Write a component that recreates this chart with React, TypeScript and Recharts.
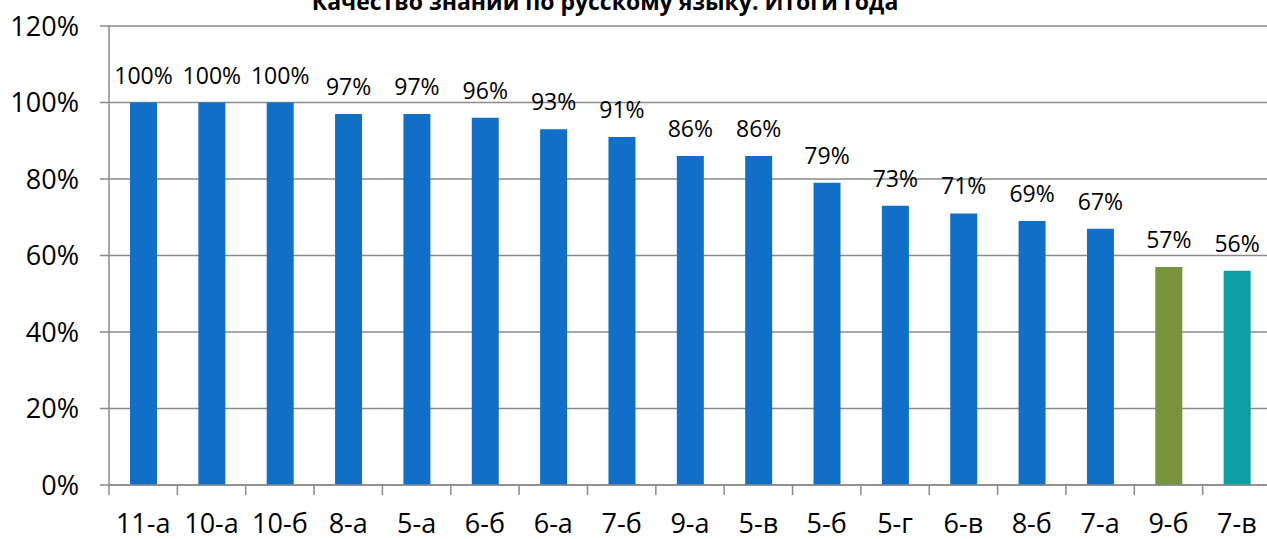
import { BarChart, Bar, XAxis, YAxis, CartesianGrid, Cell, LabelList } from "recharts";

const title = "Качество знаний по русскому языку. Итоги года";

// classes, sorted by result
const classes = [
    "11-а", "10-а", "10-б", "8-а", "5-а", "6-б", "6-а", "7-б", "9-а",
    "5-в", "5-б", "5-г", "6-в", "8-б", "7-а", "9-б", "7-в",
];
const quality = [100, 100, 100, 97, 97, 96, 93, 91, 86, 86, 79, 73, 71, 69, 67, 57, 56];
const barColors = [
    "#116fc7", "#116fc7", "#116fc7", "#116fc7", "#116fc7", "#116fc7", "#116fc7", "#116fc7",
    "#116fc7", "#116fc7", "#116fc7", "#116fc7", "#116fc7", "#116fc7", "#116fc7", "#77933c", "#0b9ea5",
];
const yTicks = [0, 20, 40, 60, 80, 100, 120];

const data = classes.map((name, i) => ({ name, value: quality[i], fill: barColors[i] }));

const FONT = "'Open Sans', 'Noto Sans', sans-serif";
const GRID = "#8a8a8a";

// Excel style: tick marks sit between categories, label in the middle
function CategoryTick(props: any) {
    const { x, y, payload, width, visibleTicksCount } = props;
    const band = width && visibleTicksCount ? width / visibleTicksCount : 68.35;
    const left = x - band / 2;
    return (
        <g>
            <line x1={left} x2={left} y1={y - 10} y2={y} stroke={GRID} strokeWidth={1.5} />
            <text x={x} y={y + 38} textAnchor="middle" fontSize={27} fontFamily={FONT} fill="#000">
                {payload.value}
            </text>
        </g>
    );
}

export default function App() {
    return (
        <div style={{ position: "absolute", left: 0, top: 0, width: 1267, height: 539, overflow: "hidden", background: "#fff" }}>
            <BarChart
                width={1280}
                height={539}
                data={data}
                margin={{ top: 26, right: 9, left: 0, bottom: 0 }}
            >
                <CartesianGrid vertical={false} stroke={GRID} strokeWidth={1.5} />
                <XAxis
                    dataKey="name"
                    height={54}
                    interval={0}
                    tickLine={false}
                    tickSize={10}
                    tickMargin={0}
                    axisLine={{ stroke: GRID, strokeWidth: 1.5 }}
                    tick={<CategoryTick />}
                />
                <YAxis
                    width={109}
                    domain={[0, 120]}
                    ticks={yTicks}
                    interval={0}
                    tickFormatter={(v: number) => `${v}%`}
                    tickSize={9}
                    tickMargin={21}
                    axisLine={{ stroke: GRID, strokeWidth: 1.5 }}
                    tickLine={{ stroke: GRID, strokeWidth: 1.5 }}
                    tick={{ fontSize: 27, fill: "#000", fontFamily: FONT }}
                />
                <Bar dataKey="value" barSize={27} isAnimationActive={false}>
                    {data.map((d, i) => (
                        <Cell key={`cell-${i}`} fill={d.fill} />
                    ))}
                    <LabelList
                        dataKey="value"
                        position="top"
                        offset={19}
                        formatter={(v: any) => `${v}%`}
                        style={{ fontSize: 23, fill: "#000", fontFamily: FONT }}
                    />
                </Bar>
            </BarChart>
            <svg width={1267} height={30} style={{ position: "absolute", left: 0, top: 0 }}>
                <text x={605} y={10} textAnchor="middle" fontSize={23} fontWeight="bold" fontFamily={FONT} fill="#000">
                    {title}
                </text>
            </svg>
        </div>
    );
}
